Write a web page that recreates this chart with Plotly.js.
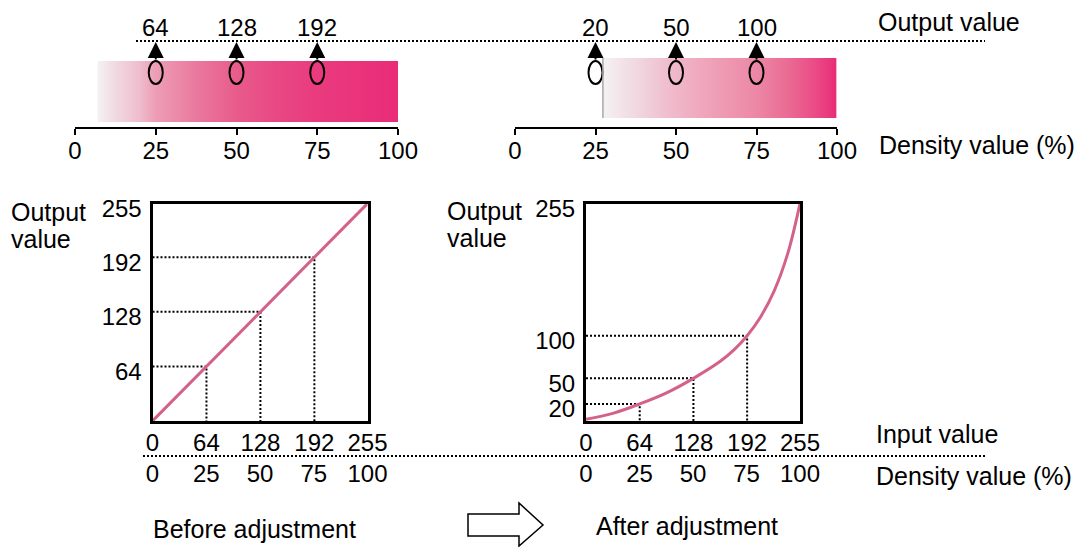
<!DOCTYPE html>
<html><head><meta charset="utf-8">
<script src="https://cdn.plot.ly/plotly-3.0.1.min.js"></script>
<style>html,body{margin:0;padding:0;background:#fff}#chart{width:1089px;height:547px}</style>
</head><body><div id="chart"></div>
<script>
// ---------------- data ----------------
const densityTicks = [0, 25, 50, 75, 100];        // density value (%)
const inputTicks = [0, 64, 128, 192, 255];        // input value
const markerDensity = [25, 50, 75];               // density of the three sample points
const markerInput = [64, 128, 192];               // input value of the sample points
const outputBefore = [64, 128, 192];              // output before adjustment
const outputAfter = [20, 50, 100];                // output after adjustment
const outputTicksBefore = [64, 128, 192, 255];
const outputTicksAfter = [20, 50, 100, 255];
const linearInput = [0, 255];
const linearOutput = [0, 255];
const curveInput = [0, 32, 64, 96, 128, 160, 176, 192, 208, 224, 240, 255];
const curveOutput = [2, 9, 20, 33, 50, 70, 83, 100, 122, 152, 195, 255];

// ---------------- layout helpers (positions / styles) ----------------
const W = 1089, H = 547;
const fx = p => p / W, fy = p => 1 - p / H;
const TOP_H = 127;                 // height of the top band in px
const ty = p => TOP_H - p;         // px -> top band y units
const FONT = 'Liberation Sans, Arial, Helvetica, sans-serif';
const NUM = {family: FONT, size: 24, color: '#000'};
const TXT = {family: FONT, size: 25, color: '#000'};
const PINK_LINE = '#d4618b';
const DOT = '2px,2px';

const barBefore = {x0: 7, x1: 101, y0: ty(122), y1: ty(61)};
const barAfter = {x0: 27.3, x1: 99.8, y0: ty(118), y1: ty(58)};
const gradBefore = [[0, '#f4f2f3'], [0.06, '#f1d9e1'], [0.14, '#efbccd'], [0.19, '#ed9eb6'],
  [0.32, '#ea7a9f'], [0.46, '#e85b8b'], [0.59, '#e84884'], [0.72, '#e93b7e'], [1, '#ea2b78']];
const gradAfter = [[0, '#f4f2f3'], [0.16, '#f0d5de'], [0.3, '#f0b9cb'], [0.45, '#efa3ba'],
  [0.66, '#ec87a5'], [0.8, '#ea6993'], [0.93, '#ea4583'], [1, '#e92b78']];

function rectTrace(b, xa, ya, grad) {
  return {type: 'scatter', mode: 'lines', xaxis: xa, yaxis: ya,
    x: [b.x0, b.x1, b.x1, b.x0, b.x0], y: [b.y0, b.y0, b.y1, b.y1, b.y0],
    line: {width: 0, color: 'rgba(0,0,0,0)'}, fill: 'toself',
    fillgradient: {type: 'horizontal', colorscale: grad}, hoverinfo: 'skip'};
}
function guideTrace(xs, ys, xa, ya) {
  const gx = [], gy = [];
  xs.forEach((v, i) => { gx.push(0, v, v, null); gy.push(ys[i], ys[i], 0, null); });
  return {type: 'scatter', mode: 'lines', x: gx, y: gy, xaxis: xa, yaxis: ya,
    line: {color: '#000', width: 2, dash: DOT}, hoverinfo: 'skip'};
}

const traces = [
  rectTrace(barBefore, 'x', 'y', gradBefore),
  rectTrace(barAfter, 'x2', 'y2', gradAfter),
  guideTrace(markerInput, outputBefore, 'x3', 'y3'),
  {type: 'scatter', mode: 'lines', x: linearInput, y: linearOutput, xaxis: 'x3', yaxis: 'y3',
    line: {color: PINK_LINE, width: 3}},
  guideTrace(markerInput, outputAfter, 'x5', 'y5'),
  {type: 'scatter', mode: 'lines', x: curveInput, y: curveOutput, xaxis: 'x5', yaxis: 'y5',
    line: {color: PINK_LINE, width: 3, shape: 'spline', smoothing: 1}},
  {type: 'scatter', mode: 'markers', x: [densityTicks[0]], y: [0], xaxis: 'x4', yaxis: 'y3', marker: {opacity: 0}, hoverinfo: 'skip'},
  {type: 'scatter', mode: 'markers', x: [densityTicks[0]], y: [0], xaxis: 'x6', yaxis: 'y5', marker: {opacity: 0}, hoverinfo: 'skip'}
];

const stripAxis = (d0, d1, anchor) => ({domain: [fx(d0), fx(d1)], range: [0, 100], anchor: anchor,
  tickmode: 'array', tickvals: densityTicks, ticktext: densityTicks.map(String),
  showline: true, linecolor: '#000', linewidth: 2, ticks: 'outside', ticklen: 6, tickwidth: 2, tickcolor: '#000',
  tickfont: NUM, ticklabelstandoff: -5, showgrid: false, zeroline: false, fixedrange: true});
const topY = {domain: [fy(TOP_H), 1], range: [0, TOP_H], visible: false, fixedrange: true};
const boxX = (d0, d1, anchor) => ({domain: [fx(d0), fx(d1)], range: [0, 255], anchor: anchor,
  tickmode: 'array', tickvals: inputTicks, ticktext: inputTicks.map(String), ticks: '',
  showline: true, mirror: true, linecolor: '#000', linewidth: 3, tickfont: NUM, ticklabelstandoff: -2,
  showgrid: false, zeroline: false, fixedrange: true});
const boxY = (anchor, tv) => ({domain: [fy(421), fy(203.5)], range: [0, 255], anchor: anchor,
  tickmode: 'array', tickvals: tv, ticktext: tv.map(String), ticks: '',
  showline: true, mirror: true, linecolor: '#000', linewidth: 3, tickfont: NUM, ticklabelstandoff: 3,
  ticklabelshift: 5, showgrid: false, zeroline: false, fixedrange: true});
const densX = (over, d0, d1) => ({domain: [fx(d0), fx(d1)], range: [0, 100], overlaying: over, anchor: 'free',
  position: fy(457), tickmode: 'array', tickvals: densityTicks, ticktext: densityTicks.map(String), ticks: '',
  showline: false, tickfont: NUM, showgrid: false, zeroline: false, fixedrange: true});

const shapes = [];
const annotations = [];
// markers (ovals), arrows and output labels on the strips
[['x', 'y', outputBefore], ['x2', 'y2', outputAfter]].forEach(([xa, ya, outs]) => {
  markerDensity.forEach((d, i) => {
    shapes.push({type: 'circle', xref: xa, yref: ya, xsizemode: 'pixel', xanchor: d, x0: -7, x1: 7,
      y0: ty(84), y1: ty(61), line: {color: '#000', width: 2}, fillcolor: 'rgba(0,0,0,0)'});
    annotations.push({x: d, y: ty(42), xref: xa, yref: ya, text: '', showarrow: true,
      ax: 0, ay: 19, arrowhead: 2, arrowsize: 1.6, arrowwidth: 2, arrowcolor: '#000', standoff: 0});
    annotations.push({x: d, y: ty(27), xref: xa, yref: ya, text: String(outs[i]), showarrow: false,
      font: NUM, xanchor: 'center', yanchor: 'middle'});
  });
});
// grey edge of the adjusted strip
shapes.push({type: 'line', xref: 'x2', yref: 'y2', x0: barAfter.x0, x1: barAfter.x0, y0: barAfter.y0, y1: barAfter.y1,
  line: {color: '#a8a8a8', width: 1.5}});
// dotted separators
shapes.push({type: 'line', xref: 'paper', yref: 'paper', x0: fx(136), x1: fx(985), y0: fy(41), y1: fy(41),
  line: {color: '#000', width: 2, dash: DOT}});
shapes.push({type: 'line', xref: 'paper', yref: 'paper', x0: fx(143), x1: fx(985), y0: fy(456), y1: fy(456),
  line: {color: '#000', width: 2, dash: DOT}});
// outline arrow between the captions
const arrowPts = [[468, 514], [519, 514], [519, 503], [543, 525], [519, 546], [519, 536], [468, 536]];
shapes.push({type: 'path', xref: 'paper', yref: 'paper',
  path: 'M' + arrowPts.map(p => fx(p[0]) + ',' + fy(p[1])).join('L') + 'Z',
  line: {color: '#000', width: 1.5}, fillcolor: '#fff'});

function label(text, xpx, ypx, anchor) {
  annotations.push({text: text, x: fx(xpx), y: fy(ypx), xref: 'paper', yref: 'paper', showarrow: false,
    xanchor: anchor || 'left', yanchor: 'middle', font: TXT});
}
label('Output value', 876, 22);
label('Density value (%)', 877, 145);
label('Input value', 874, 434);
label('Density value (%)', 874, 476);
label('Output', 9, 212);
label('value', 9, 239);
label('Output', 445, 211);
label('value', 445, 238);
label('Before adjustment', 151, 529);
label('After adjustment', 594, 526);

const layout = {
  width: W, height: H, margin: {l: 0, r: 0, t: 0, b: 0}, showlegend: false,
  paper_bgcolor: '#fff', plot_bgcolor: 'rgba(0,0,0,0)', font: {family: FONT, color: '#000'},
  xaxis: stripAxis(75, 398, 'y'), yaxis: topY,
  xaxis2: stripAxis(515, 837, 'y2'), yaxis2: Object.assign({}, topY),
  xaxis3: boxX(152.5, 367.5, 'y3'), yaxis3: boxY('x3', outputTicksBefore),
  xaxis4: densX('x3', 152.5, 367.5),
  xaxis5: boxX(586, 800, 'y5'), yaxis5: boxY('x5', outputTicksAfter),
  xaxis6: densX('x5', 586, 800),
  shapes: shapes, annotations: annotations
};
Plotly.newPlot('chart', traces, layout, {staticPlot: true, displayModeBar: false});
</script></body></html>
